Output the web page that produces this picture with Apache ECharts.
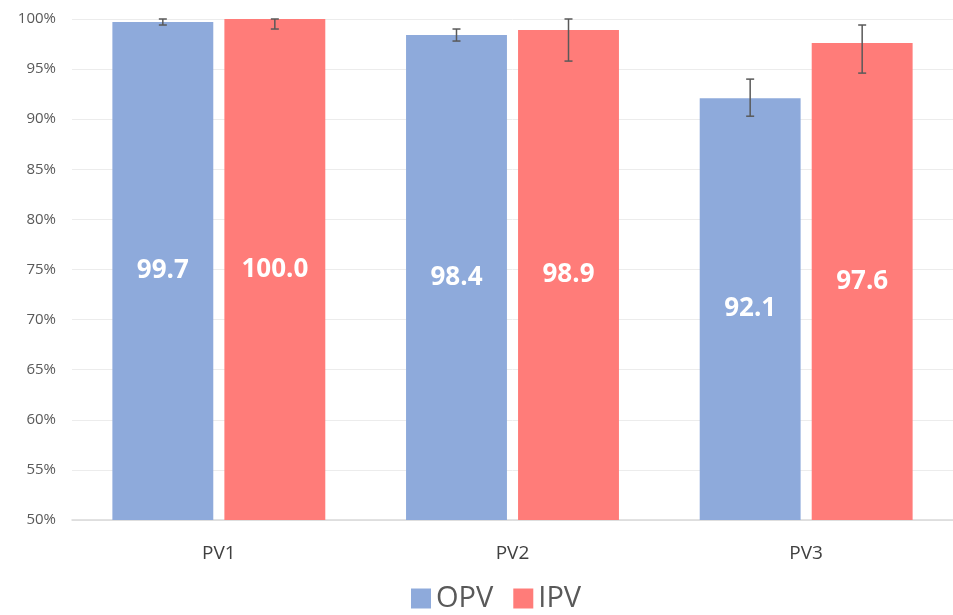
<!DOCTYPE html>
<html>
<head>
<meta charset="utf-8">
<script src="https://cdn.jsdelivr.net/npm/echarts@6/dist/echarts.min.js"></script>
<style>
  html, body { margin: 0; padding: 0; background: #fff; }
  #chart { width: 953px; height: 615px; }
</style>
</head>
<body>
<div id="chart"></div>
<script>
// data
var categories = ['PV1', 'PV2', 'PV3'];
var opv = [99.7, 98.4, 92.1];
var ipv = [100.0, 98.9, 97.6];
// error bar ends (low / high), as drawn
var opvLow = [99.4, 97.8, 90.3];
var opvHigh = [100.0, 99.0, 94.0];
var ipvLow = [99.0, 95.8, 94.6];
var ipvHigh = [100.0, 100.0, 99.4];
var yTicks = [50, 55, 60, 65, 70, 75, 80, 85, 90, 95, 100];

var catGap = 0.275;
var barGap = 0.11;

function errData(low, high) {
    var out = [];
    for (var i = 0; i < categories.length; i++) {
        out.push([i, low[i], high[i]]);
    }
    return out;
}

function errorBars(seriesIndex) {
    return function (params, api) {
        var x = api.value(0);
        var lo = api.coord([x, api.value(1)]);
        var hi = api.coord([x, api.value(2)]);
        var band = api.size([1, 0])[0];
        var used = band * (1 - catGap);
        var bw = used / (2 + barGap);
        var off = -used / 2 + seriesIndex * bw * (1 + barGap) + bw / 2;
        var cx = lo[0] + off;
        var cap = 4;
        var style = { stroke: '#595959', lineWidth: 1.5 };
        return {
            type: 'group',
            children: [
                { type: 'line', shape: { x1: cx, y1: lo[1], x2: cx, y2: hi[1] }, style: style },
                { type: 'line', shape: { x1: cx - cap, y1: lo[1], x2: cx + cap, y2: lo[1] }, style: style },
                { type: 'line', shape: { x1: cx - cap, y1: hi[1], x2: cx + cap, y2: hi[1] }, style: style }
            ]
        };
    };
}

var chart = echarts.init(document.getElementById('chart'));

var labelStyle = {
    show: true,
    position: 'inside',
    color: '#fff',
    fontSize: 26,
    fontWeight: 'bold',
    fontFamily: 'Open Sans',
    formatter: function (p) { return p.value.toFixed(1); }
};

var option = {
    animation: false,
    textStyle: { fontFamily: 'Open Sans' },
    grid: { left: 72, right: -4, top: 19, bottom: 95, containLabel: false },
    legend: {
        bottom: -3,
        left: 406,
        icon: 'rect',
        itemWidth: 20,
        itemHeight: 20,
        itemGap: 20,
        textStyle: { fontSize: 29, color: '#595959', fontFamily: 'Open Sans' },
        data: ['OPV', 'IPV']
    },
    xAxis: {
        type: 'category',
        data: categories,
        axisTick: { show: false },
        axisLine: { lineStyle: { color: '#d9d9d9', width: 1.5 } },
        axisLabel: { color: '#404040', fontSize: 19, margin: 24 }
    },
    yAxis: {
        type: 'value',
        min: yTicks[0],
        max: yTicks[yTicks.length - 1],
        interval: 5,
        axisLine: { show: false },
        axisTick: { show: false },
        splitLine: { lineStyle: { color: '#ececec' } },
        axisLabel: { color: '#595959', fontSize: 15, margin: 16, formatter: '{value}%' }
    },
    series: [
        {
            name: 'OPV',
            type: 'bar',
            data: opv,
            barCategoryGap: (catGap * 100) + '%',
            barGap: (barGap * 100) + '%',
            itemStyle: { color: '#8eaadb' },
            label: labelStyle
        },
        {
            name: 'IPV',
            type: 'bar',
            data: ipv,
            barCategoryGap: (catGap * 100) + '%',
            barGap: (barGap * 100) + '%',
            itemStyle: { color: '#ff7c79' },
            label: labelStyle
        },
        {
            type: 'custom',
            name: 'OPV err',
            renderItem: errorBars(0),
            data: errData(opvLow, opvHigh),
            encode: { x: 0, y: [1, 2] },
            z: 10
        },
        {
            type: 'custom',
            name: 'IPV err',
            renderItem: errorBars(1),
            data: errData(ipvLow, ipvHigh),
            encode: { x: 0, y: [1, 2] },
            z: 10
        }
    ]
};

option && chart.setOption(option);
</script>
</body>
</html>
